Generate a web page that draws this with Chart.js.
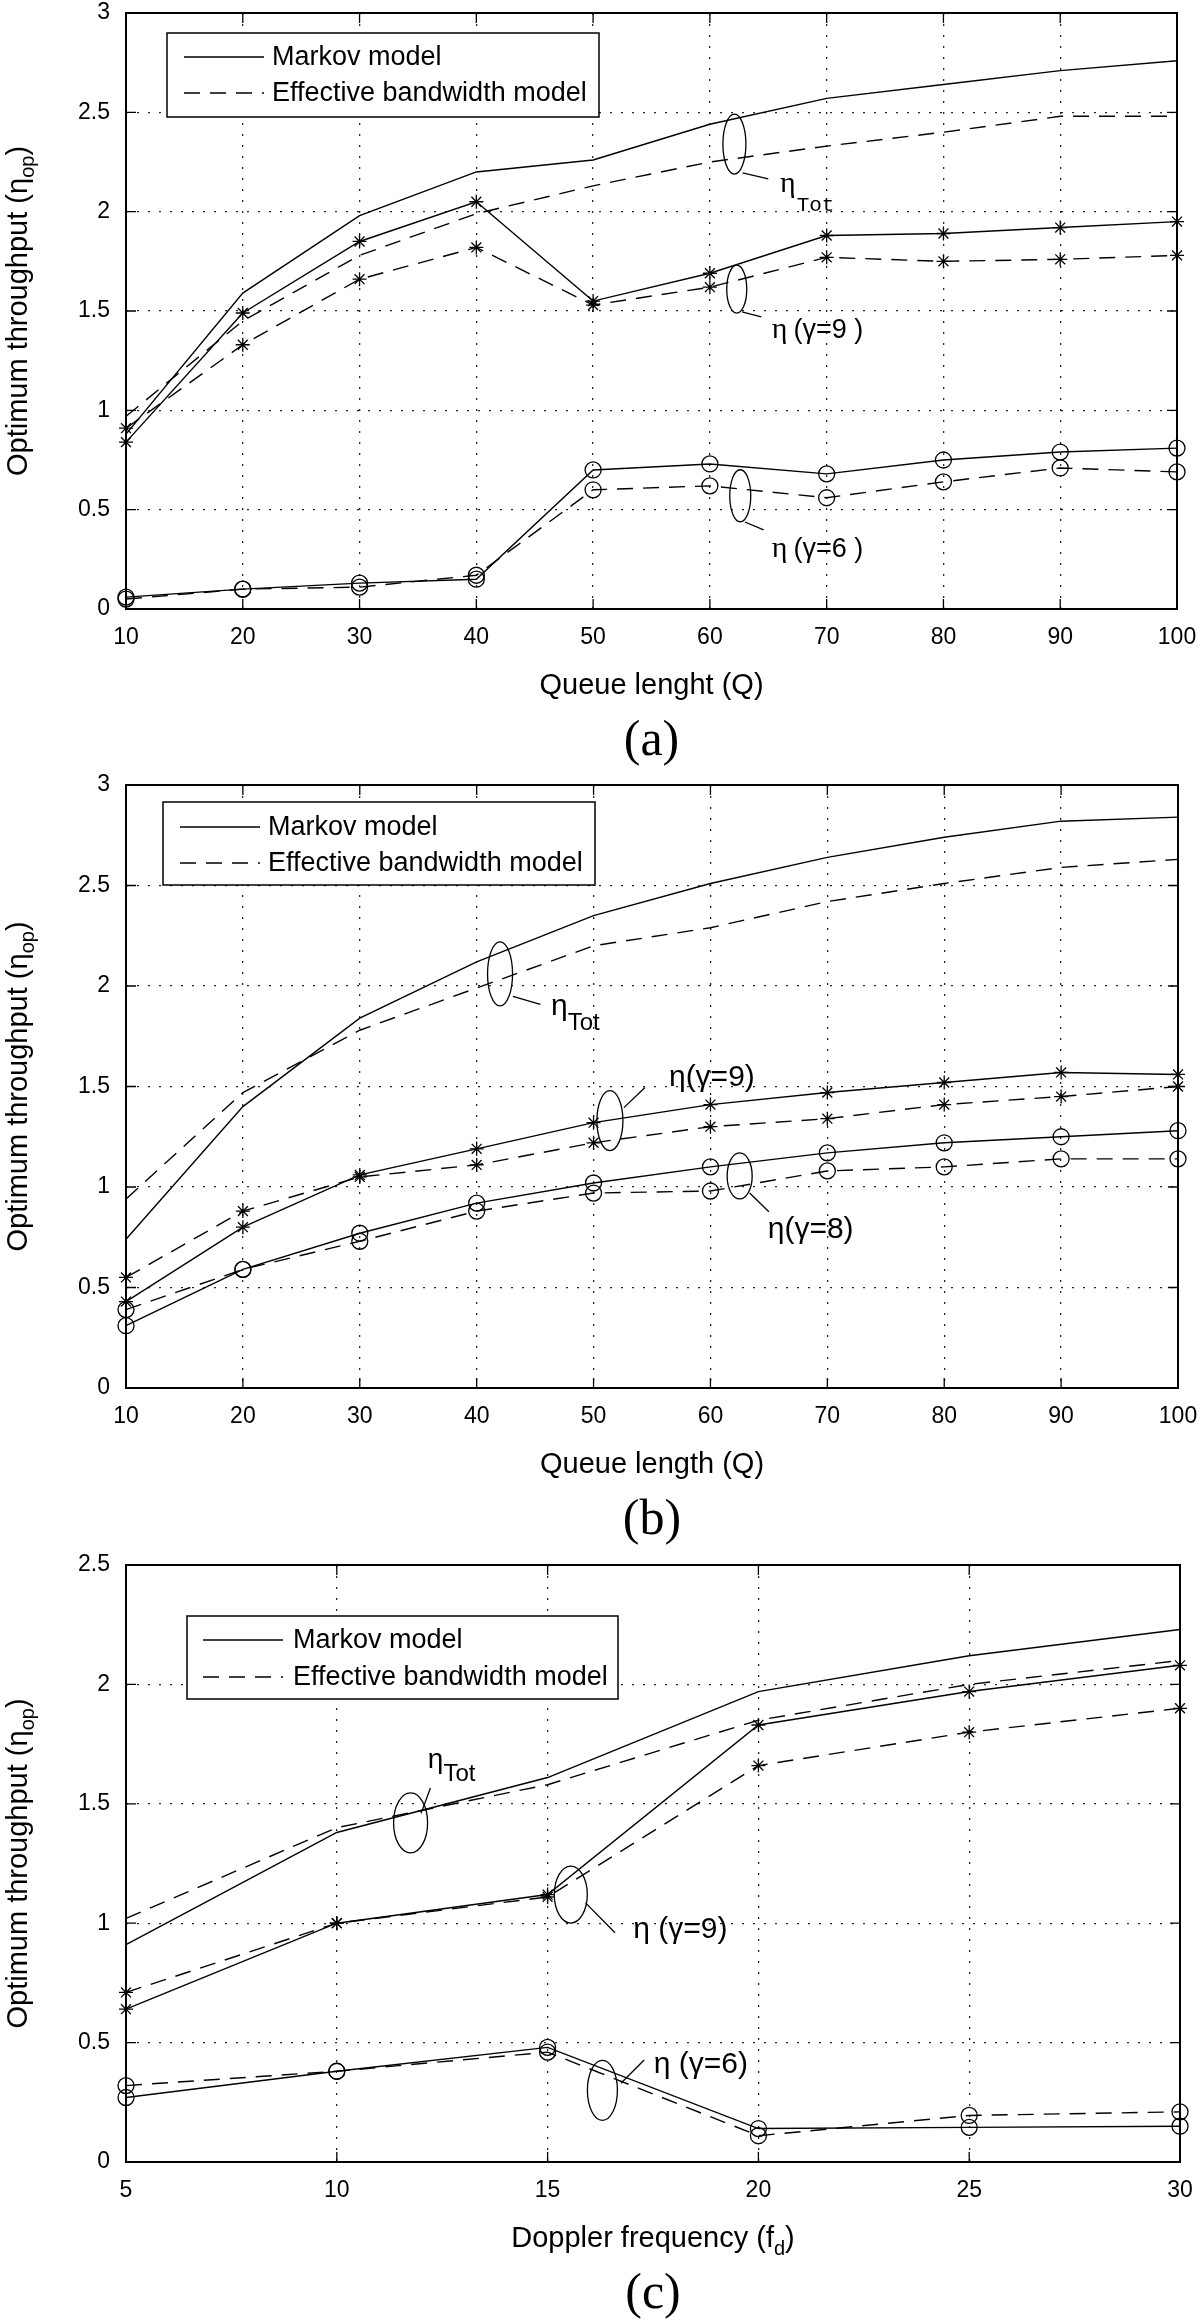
<!DOCTYPE html>
<html>
<head>
<meta charset="utf-8">
<script src="https://cdn.jsdelivr.net/npm/chart.js@4.4.1/dist/chart.umd.min.js"></script>
<style>
  html, body { margin: 0; padding: 0; background: #fff; }
  #wrap { position: relative; width: 1200px; height: 2321px; overflow: hidden; }
  canvas { position: absolute; left: 0; }
</style>
</head>
<body>
<div id="wrap">
  <canvas id="chartA" width="1200" height="790" style="top:0px"></canvas>
  <canvas id="chartB" width="1200" height="800" style="top:760px"></canvas>
  <canvas id="chartC" width="1200" height="791" style="top:1530px"></canvas>
</div>
<script>
// ---- data ----

// (a) queue length
const queueA = [10, 20, 30, 40, 50, 60, 70, 80, 90, 100];
const a_totMarkov = [0.88, 1.59, 1.98, 2.20, 2.26, 2.44, 2.57, 2.64, 2.71, 2.76];
const a_totEff    = [0.97, 1.45, 1.78, 1.99, 2.13, 2.25, 2.33, 2.40, 2.48, 2.48];
const a_g9Markov  = [0.84, 1.49, 1.85, 2.05, 1.55, 1.69, 1.88, 1.89, 1.92, 1.95];
const a_g9Eff     = [0.91, 1.33, 1.66, 1.82, 1.53, 1.62, 1.77, 1.75, 1.76, 1.78];
const a_g6Markov  = [0.06, 0.10, 0.13, 0.15, 0.70, 0.73, 0.68, 0.75, 0.79, 0.81];
const a_g6Eff     = [0.05, 0.10, 0.11, 0.17, 0.60, 0.62, 0.56, 0.64, 0.71, 0.69];

// (b) queue length
const queueB = [10, 20, 30, 40, 50, 60, 70, 80, 90, 100];
const b_totMarkov = [0.74, 1.40, 1.84, 2.12, 2.35, 2.51, 2.64, 2.74, 2.82, 2.84];
const b_totEff    = [0.94, 1.47, 1.78, 1.99, 2.20, 2.29, 2.42, 2.51, 2.59, 2.63];
const b_g9Markov  = [0.43, 0.80, 1.06, 1.19, 1.32, 1.41, 1.47, 1.52, 1.57, 1.56];
const b_g9Eff     = [0.55, 0.88, 1.05, 1.11, 1.22, 1.30, 1.34, 1.41, 1.45, 1.50];
const b_g8Markov  = [0.31, 0.59, 0.77, 0.92, 1.02, 1.10, 1.17, 1.22, 1.25, 1.28];
const b_g8Eff     = [0.39, 0.59, 0.73, 0.88, 0.97, 0.98, 1.08, 1.10, 1.14, 1.14];

// (c) doppler frequency
const doppler = [5, 10, 15, 20, 25, 30];
const c_totMarkov = [0.91, 1.38, 1.61, 1.97, 2.12, 2.23];
const c_totEff    = [1.02, 1.40, 1.58, 1.85, 2.00, 2.10];
const c_g9Markov  = [0.64, 1.00, 1.12, 1.83, 1.97, 2.08];
const c_g9Eff     = [0.71, 1.00, 1.11, 1.66, 1.80, 1.90];
const c_g6Markov  = [0.27, 0.38, 0.48, 0.14, 0.145, 0.15];
const c_g6Eff     = [0.32, 0.38, 0.46, 0.11, 0.195, 0.21];

// tick labels
const yTicks3  = [0, 0.5, 1, 1.5, 2, 2.5, 3];
const yTicks25 = [0, 0.5, 1, 1.5, 2, 2.5];
const xTicksQ  = [10, 20, 30, 40, 50, 60, 70, 80, 90, 100];
const xTicksD  = [5, 10, 15, 20, 25, 30];

const legendLabels = ['Markov model', 'Effective bandwidth model'];

// ---- helpers ----
const SANS = '"Liberation Sans", Arial, sans-serif';
const SERIF = '"Liberation Serif", "Times New Roman", serif';
const MONO = '"Liberation Mono", "Courier New", monospace';

function line(xs, ys, dashed, marker) {
  return {
    data: xs.map((v, i) => ({ x: v, y: ys[i] })),
    borderColor: '#000',
    borderWidth: 1.4,
    borderDash: dashed ? [16, 10] : [],
    pointStyle: marker || 'circle',
    pointRadius: marker ? (marker === 'star' ? 7 : 8) : 0,
    pointBorderColor: '#000',
    pointBackgroundColor: 'rgba(0,0,0,0)',
    pointBorderWidth: 1.3,
    clip: false
  };
}

function drawRich(ctx, x, y, parts, align) {
  let w = 0;
  parts.forEach(p => { ctx.font = p.font; w += ctx.measureText(p.t).width + (p.dx || 0); });
  let cx = align === 'center' ? x - w / 2 : x;
  ctx.textAlign = 'left';
  ctx.textBaseline = 'alphabetic';
  ctx.fillStyle = '#000';
  parts.forEach(p => {
    ctx.font = p.font;
    cx += p.dx || 0;
    ctx.fillText(p.t, cx, y + (p.dy || 0));
    cx += ctx.measureText(p.t).width;
  });
}

// box, inner ticks, legend, callouts, titles
const paperDeco = {
  id: 'paperDeco',
  afterDraw(chart, args, o) {
    const { ctx, chartArea: ca } = chart;
    const x = chart.scales.x, y = chart.scales.y;
    ctx.save();
    ctx.setLineDash([]);
    ctx.strokeStyle = '#000';

    // matlab style inner ticks
    ctx.lineWidth = 1.3;
    ctx.beginPath();
    x.ticks.forEach(t => {
      const px = x.getPixelForValue(t.value);
      ctx.moveTo(px, ca.bottom); ctx.lineTo(px, ca.bottom - 10);
      ctx.moveTo(px, ca.top); ctx.lineTo(px, ca.top + 10);
    });
    y.ticks.forEach(t => {
      const py = y.getPixelForValue(t.value);
      ctx.moveTo(ca.left, py); ctx.lineTo(ca.left + 10, py);
      ctx.moveTo(ca.right, py); ctx.lineTo(ca.right - 10, py);
    });
    ctx.stroke();

    ctx.lineWidth = 2;
    ctx.strokeRect(ca.left, ca.top, ca.right - ca.left, ca.bottom - ca.top);

    // legend
    const L = o.legend;
    ctx.fillStyle = '#fff';
    ctx.fillRect(L.box[0], L.box[1], L.box[2] - L.box[0], L.box[3] - L.box[1]);
    ctx.lineWidth = 1.5;
    ctx.strokeRect(L.box[0], L.box[1], L.box[2] - L.box[0], L.box[3] - L.box[1]);
    legendLabels.forEach((lab, i) => {
      const ry = L.rows[i];
      ctx.lineWidth = 1.4;
      ctx.setLineDash(i === 1 ? [16, 10] : []);
      ctx.beginPath(); ctx.moveTo(L.sample[0], ry); ctx.lineTo(L.sample[1], ry); ctx.stroke();
      ctx.setLineDash([]);
      ctx.fillStyle = '#000';
      ctx.font = '27px ' + SANS;
      ctx.textAlign = 'left';
      ctx.textBaseline = 'middle';
      ctx.fillText(lab, L.textX, ry + 1);
    });

    // callouts: ellipse + leader + label
    o.notes.forEach(n => {
      ctx.lineWidth = 1.3;
      ctx.beginPath();
      ctx.ellipse(x.getPixelForValue(n.ex), y.getPixelForValue(n.ey), n.w / 2, n.h / 2, 0, 0, Math.PI * 2);
      ctx.stroke();
      ctx.beginPath();
      ctx.moveTo(x.getPixelForValue(n.lead[0]), y.getPixelForValue(n.lead[1]));
      ctx.lineTo(x.getPixelForValue(n.lead[2]), y.getPixelForValue(n.lead[3]));
      ctx.stroke();
      drawRich(ctx, x.getPixelForValue(n.tx), y.getPixelForValue(n.ty), n.parts);
    });

    // axis titles
    const midX = (ca.left + ca.right) / 2;
    drawRich(ctx, midX, ca.bottom + o.xTitleDy, o.xTitle, 'center');
    ctx.save();
    ctx.translate(27, (ca.top + ca.bottom) / 2);
    ctx.rotate(-Math.PI / 2);
    drawRich(ctx, 0, 0, [
      { t: 'Optimum throughput (\u03b7', font: '29px ' + SANS },
      { t: 'op', font: '20px ' + SANS, dy: 7 },
      { t: ')', font: '29px ' + SANS }
    ], 'center');
    ctx.restore();

    // panel letter
    drawRich(ctx, midX, ca.bottom + o.tagDy, [{ t: o.tag, font: '50px ' + SERIF }], 'center');
    ctx.restore();
  }
};

function makeChart(id, cfg) {
  const canvas = document.getElementById(id);
  const H = canvas.height;
  return new Chart(canvas, {
    type: 'line',
    data: { datasets: cfg.datasets },
    options: {
      responsive: false,
      animation: false,
      devicePixelRatio: 1,
      layout: { padding: { top: cfg.top, right: 1200 - cfg.right, bottom: 0, left: 0 } },
      plugins: { legend: { display: false }, tooltip: { enabled: false }, paperDeco: cfg.deco },
      scales: {
        x: {
          type: 'linear', min: cfg.xTicks[0], max: cfg.xTicks[cfg.xTicks.length - 1],
          afterBuildTicks: s => { s.ticks = cfg.xTicks.map(v => ({ value: v })); },
          afterFit: s => { s.height = H - cfg.bottom; s.paddingLeft = 0; s.paddingRight = 0; },
          ticks: { color: '#000', font: { family: SANS, size: 23 }, padding: 15, maxRotation: 0, autoSkip: false, callback: v => String(v) },
          grid: { color: 'rgba(0,0,0,0.85)', lineWidth: 1.3, drawTicks: false },
          border: { display: false, dash: [2, 9] }
        },
        y: {
          type: 'linear', min: 0, max: cfg.yTicks[cfg.yTicks.length - 1],
          afterBuildTicks: s => { s.ticks = cfg.yTicks.map(v => ({ value: v })); },
          afterFit: s => { s.width = 126; s.paddingTop = 0; s.paddingBottom = 0; },
          ticks: { color: '#000', font: { family: SANS, size: 23 }, padding: 16, autoSkip: false, callback: v => String(v) },
          grid: { color: 'rgba(0,0,0,0.85)', lineWidth: 1.3, drawTicks: false },
          border: { display: false, dash: [2, 9] }
        }
      }
    },
    plugins: [paperDeco]
  });
}

const eta = '\u03b7';

// ---- (a) ----
makeChart('chartA', {
  top: 13, bottom: 609, right: 1177,
  xTicks: xTicksQ, yTicks: yTicks3,
  datasets: [
    line(queueA, a_totMarkov, false, null),
    line(queueA, a_totEff, true, null),
    line(queueA, a_g9Markov, false, 'star'),
    line(queueA, a_g9Eff, true, 'star'),
    line(queueA, a_g6Markov, false, 'circle'),
    line(queueA, a_g6Eff, true, 'circle')
  ],
  deco: {
    legend: { box: [167, 33, 599, 117], rows: [57, 93], sample: [184, 264], textX: 272 },
    notes: [
      { ex: 62.1, ey: 2.34, w: 23, h: 60, lead: [62.8, 2.195, 65.0, 2.165], tx: 66.0, ty: 2.099,
        parts: [{ t: eta, font: '30px ' + SERIF }, { t: 'Tot', font: '21px ' + MONO, dy: 19, dx: 1 }] },
      { ex: 62.3, ey: 1.61, w: 20, h: 48, lead: [62.75, 1.495, 64.4, 1.47], tx: 65.3, ty: 1.364,
        parts: [{ t: eta, font: '30px ' + SERIF }, { t: '(\u03b3=9 )', font: '27px ' + SANS, dx: 6 }] },
      { ex: 62.6, ey: 0.57, w: 21, h: 52, lead: [63.0, 0.438, 64.6, 0.398], tx: 65.3, ty: 0.262,
        parts: [{ t: eta, font: '30px ' + SERIF }, { t: '(\u03b3=6 )', font: '27px ' + SANS, dx: 6 }] }
    ],
    xTitle: [{ t: 'Queue lenght (Q)', font: '29px ' + SANS }], xTitleDy: 85,
    tag: '(a)', tagDy: 146
  }
});

// ---- (b) ----
makeChart('chartB', {
  top: 25, bottom: 628, right: 1178,
  xTicks: xTicksQ, yTicks: yTicks3,
  datasets: [
    line(queueB, b_totMarkov, false, null),
    line(queueB, b_totEff, true, null),
    line(queueB, b_g9Markov, false, 'star'),
    line(queueB, b_g9Eff, true, 'star'),
    line(queueB, b_g8Markov, false, 'circle'),
    line(queueB, b_g8Eff, true, 'circle')
  ],
  deco: {
    legend: { box: [163, 42, 595, 125], rows: [67, 103], sample: [180, 260], textX: 268 },
    notes: [
      { ex: 42.0, ey: 2.06, w: 25, h: 64, lead: [43.1, 1.948, 45.45, 1.908], tx: 46.36, ty: 1.856,
        parts: [{ t: eta, font: '30px ' + SANS }, { t: 'Tot', font: '24px ' + SANS, dy: 15 }] },
      { ex: 51.4, ey: 1.33, w: 26, h: 60, lead: [52.6, 1.395, 54.4, 1.495], tx: 56.45, ty: 1.502,
        parts: [{ t: eta + '(\u03b3=9)', font: '30px ' + SANS }] },
      { ex: 62.5, ey: 1.055, w: 25, h: 46, lead: [63.35, 0.97, 65.0, 0.877], tx: 64.9, ty: 0.746,
        parts: [{ t: eta + '(\u03b3=8)', font: '30px ' + SANS }] }
    ],
    xTitle: [{ t: 'Queue length (Q)', font: '29px ' + SANS }], xTitleDy: 85,
    tag: '(b)', tagDy: 146
  }
});

// ---- (c) ----
makeChart('chartC', {
  top: 35, bottom: 632, right: 1180,
  xTicks: xTicksD, yTicks: yTicks25,
  datasets: [
    line(doppler, c_totMarkov, false, null),
    line(doppler, c_totEff, true, null),
    line(doppler, c_g9Markov, false, 'star'),
    line(doppler, c_g9Eff, true, 'star'),
    line(doppler, c_g6Markov, false, 'circle'),
    line(doppler, c_g6Eff, true, 'circle')
  ],
  deco: {
    legend: { box: [187, 86, 618, 169], rows: [110, 147], sample: [203, 283], textX: 293 },
    notes: [
      { ex: 11.75, ey: 1.42, w: 34, h: 60, lead: [12.0, 1.46, 12.22, 1.566], tx: 12.16, ty: 1.65,
        parts: [{ t: eta, font: '28px ' + SANS }, { t: 'Tot', font: '24px ' + SANS, dy: 13 }] },
      { ex: 15.55, ey: 1.12, w: 33, h: 57, lead: [15.9, 1.085, 16.6, 0.96], tx: 17.03, ty: 0.938,
        parts: [{ t: eta + ' (\u03b3=9)', font: '30px ' + SANS }] },
      { ex: 16.3, ey: 0.30, w: 30, h: 60, lead: [16.74, 0.33, 17.29, 0.427], tx: 17.52, ty: 0.373,
        parts: [{ t: eta + ' (\u03b3=6)', font: '30px ' + SANS }] }
    ],
    xTitle: [
      { t: 'Doppler frequency (f', font: '29px ' + SANS },
      { t: 'd', font: '20px ' + SANS, dy: 8 },
      { t: ')', font: '29px ' + SANS }
    ], xTitleDy: 85,
    tag: '(c)', tagDy: 146
  }
});
</script>
</body>
</html>
